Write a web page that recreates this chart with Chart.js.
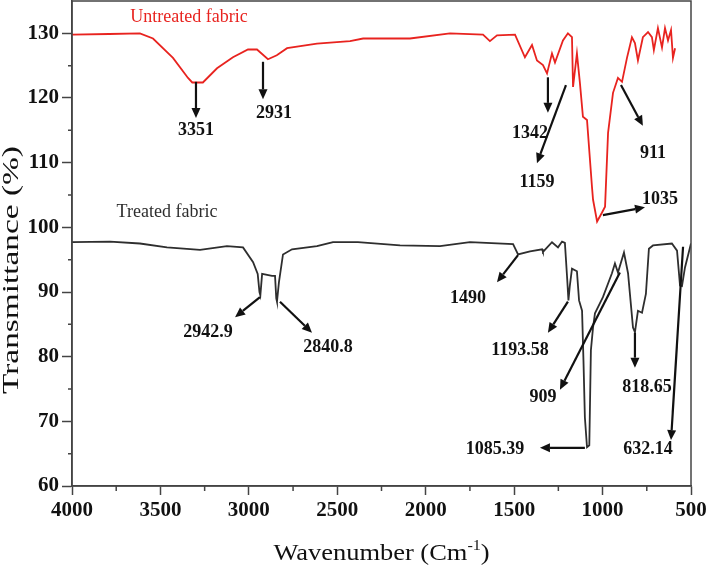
<!DOCTYPE html>
<html>
<head>
<meta charset="utf-8">
<script src="https://cdn.jsdelivr.net/npm/chart.js@4.4.1/dist/chart.umd.min.js"></script>
<style>
  html, body { margin: 0; padding: 0; background: #fff; }
</style>
</head>
<body>
<canvas id="ftir" width="706" height="567"></canvas>
<script>
// Untreated fabric (red) - wavenumber (cm-1) and transmittance (%)
const untreatedWave = [4000, 3790, 3616, 3542, 3429, 3344, 3320, 3260, 3180, 3090, 3005, 2954, 2892, 2842, 2784, 2615,
  2428, 2354, 2089, 1863, 1676, 1637, 1597, 1495, 1439, 1399, 1371, 1337, 1314, 1286, 1269, 1224, 1196, 1173, 1167,
  1145, 1128, 1111, 1088, 1060, 1054, 1031, 1003, 986, 969, 941, 913, 890, 862, 834, 817, 800, 772, 743, 721, 710,
  687, 664, 647, 630, 613, 602, 590];
const untreatedT = [129.8, 129.9, 130.0, 129.2, 126.2, 123.1, 122.4, 122.4, 124.6, 126.3, 127.5, 127.5, 126.0, 126.6, 127.7, 128.4,
  128.8, 129.2, 129.2, 130.0, 129.8, 128.8, 129.7, 129.8, 126.3, 128.2, 125.8, 125.1, 123.8, 126.9, 125.5, 128.9, 130.0, 129.4, 121.7,
  126.9, 122.3, 117.1, 116.6, 106.3, 104.3, 100.9, 102.3, 103.2, 114.6, 120.8, 123.1, 122.5, 126.2, 129.4, 128.5, 125.8, 129.4, 130.2, 129.4, 127.4,
  130.8, 127.8, 130.8, 128.9, 130.5, 126.2, 127.7];

// Treated fabric (black)
const treatedWave = [4000, 3785, 3616, 3463, 3276, 3124, 3033, 2976, 2950, 2940, 2935, 2925, 2869, 2852, 2845, 2841, 2830,
  2807, 2756, 2615, 2524, 2383, 2145, 1919, 1750, 1506, 1478, 1410, 1342, 1337, 1286, 1252, 1229, 1213, 1200, 1193,
  1185, 1173, 1145, 1133, 1116, 1108, 1100, 1088, 1075, 1066, 1054, 1043, 998, 947, 930, 913, 879, 856, 828, 817,
  800, 777, 755, 738, 715, 608, 579, 562, 551, 534, 500];
const treatedT = [97.7, 97.8, 97.5, 96.9, 96.5, 97.1, 96.9, 94.6, 92.8, 90.0, 89.5, 92.8, 92.5, 92.5, 89.0, 88.5, 91.5,
  95.8, 96.6, 97.1, 97.7, 97.7, 97.2, 97.1, 97.7, 97.4, 95.8, 96.3, 96.6, 96.2, 97.7, 96.9, 97.8, 97.6, 92.0, 88.7,
  91.0, 93.6, 93.2, 88.7, 87.1, 79.4, 70.6, 66.0, 66.3, 81.0, 84.5, 86.7, 89.2, 92.9, 94.4, 93.0, 96.1, 92.9, 84.5, 83.8,
  87.1, 86.8, 89.7, 96.7, 97.2, 97.5, 96.4, 91.0, 90.9, 93.8, 97.5];

const xTicks = [4000, 3500, 3000, 2500, 2000, 1500, 1000, 500];
const xMinor = [3750, 3250, 2750, 2250, 1750, 1250, 750];
const yTicks = [60, 70, 80, 90, 100, 110, 120, 130];
const yMinor = [65, 75, 85, 95, 105, 115, 125];

// series names and where they are written (wavenumber, %T)
const seriesNames = ['Untreated fabric', 'Treated fabric'];
const seriesColors = ['#e8231f', '#2e2e2e'];
const seriesNamePos = [[3338, 132.5], [3463, 102.4]];

// peak labels: text, text centre, arrow start, arrow tip
const peakLabels = ['3351', '2931', '1342', '1159', '911', '1035',
  '2942.9', '2840.8', '1490', '1193.58', '909', '818.65', '632.14', '1085.39'];
const peakTextPos = [[3299, 115.0], [2858, 117.7], [1410, 114.6], [1371, 107.0], [715, 111.5], [675, 104.4],
  [3231, 83.8], [2553, 81.5], [1761, 89.0], [1467, 81.0], [1337, 73.7], [749, 75.2], [743, 65.6], [1608, 65.6]];
const arrowFrom = [[3299, 122.5], [2920, 125.6], [1309, 123.2], [1207, 122.0], [896, 122.0], [998, 101.9],
  [2937, 89.2], [2824, 88.5], [1478, 95.7], [1196, 88.5], [902, 93.0], [817, 83.7], [545, 97.0], [1100, 65.9]];
const arrowTo = [[3299, 116.9], [2920, 119.8], [1309, 117.7], [1371, 109.9], [772, 115.7], [760, 103.1],
  [3078, 86.1], [2643, 83.7], [1597, 91.5], [1309, 83.7], [1241, 74.9], [817, 78.3], [613, 67.1], [1354, 65.9]];

function toPoints(xs, ys) {
  return xs.map((w, i) => ({ x: w, y: ys[i] }));
}

function drawArrow(ctx, x1, y1, x2, y2) {
  const ang = Math.atan2(y2 - y1, x2 - x1);
  const head = 10, half = 4.5;
  const bx = x2 - head * Math.cos(ang), by = y2 - head * Math.sin(ang);
  ctx.beginPath();
  ctx.moveTo(x1, y1);
  ctx.lineTo(bx, by);
  ctx.stroke();
  ctx.beginPath();
  ctx.moveTo(x2, y2);
  ctx.lineTo(bx + half * Math.sin(ang), by - half * Math.cos(ang));
  ctx.lineTo(bx - half * Math.sin(ang), by + half * Math.cos(ang));
  ctx.closePath();
  ctx.fill();
}

// frame, minor ticks, arrows, labels and axis titles
const decorations = {
  id: 'decorations',
  afterDraw(chart) {
    const { ctx, chartArea: a, scales: { x, y } } = chart;
    ctx.save();
    ctx.strokeStyle = '#444';
    ctx.lineWidth = 1.5;
    ctx.strokeRect(a.left, a.top, a.right - a.left, a.bottom - a.top);

    ctx.beginPath();
    xMinor.forEach(v => {
      const px = x.getPixelForValue(v);
      ctx.moveTo(px, a.bottom);
      ctx.lineTo(px, a.bottom + 5);
    });
    yMinor.forEach(v => {
      const py = y.getPixelForValue(v);
      ctx.moveTo(a.left - 4, py);
      ctx.lineTo(a.left, py);
    });
    ctx.stroke();

    ctx.strokeStyle = '#111';
    ctx.fillStyle = '#111';
    ctx.lineWidth = 2.2;
    arrowFrom.forEach((f, i) => {
      const t = arrowTo[i];
      drawArrow(ctx, x.getPixelForValue(f[0]), y.getPixelForValue(f[1]),
        x.getPixelForValue(t[0]), y.getPixelForValue(t[1]));
    });

    ctx.textAlign = 'center';
    ctx.textBaseline = 'middle';
    ctx.font = 'bold 18px "Liberation Serif"';
    peakLabels.forEach((txt, i) => {
      const p = peakTextPos[i];
      ctx.fillText(txt, x.getPixelForValue(p[0]), y.getPixelForValue(p[1]));
    });

    ctx.font = '18px "Liberation Serif"';
    seriesNames.forEach((txt, i) => {
      const p = seriesNamePos[i];
      ctx.fillStyle = seriesColors[i];
      ctx.fillText(txt, x.getPixelForValue(p[0]), y.getPixelForValue(p[1]));
    });

    // y axis title
    ctx.fillStyle = '#111';
    ctx.save();
    ctx.translate(18, 270);
    ctx.rotate(-Math.PI / 2);
    ctx.scale(1.45, 1);
    ctx.textBaseline = 'alphabetic';
    ctx.font = '23px "Liberation Serif"';
    ctx.fillText('Transmittance (%)', 0, 0);
    ctx.restore();

    // x axis title with superscript
    ctx.save();
    ctx.translate((a.left + a.right) / 2, 560);
    ctx.scale(1.15, 1);
    ctx.textBaseline = 'alphabetic';
    ctx.textAlign = 'left';
    const big = '23px "Liberation Serif"', small = '14px "Liberation Serif"';
    ctx.font = big;
    const w1 = ctx.measureText('Wavenumber (Cm').width;
    const w3 = ctx.measureText(')').width;
    ctx.font = small;
    const w2 = ctx.measureText('-1').width;
    let cx = -(w1 + w2 + w3) / 2;
    ctx.font = big;
    ctx.fillText('Wavenumber (Cm', cx, 0);
    cx += w1;
    ctx.font = small;
    ctx.fillText('-1', cx, -10);
    cx += w2;
    ctx.font = big;
    ctx.fillText(')', cx, 0);
    ctx.restore();

    ctx.restore();
  }
};

const tickFont = { family: 'Liberation Serif', size: 21, weight: 'bold' };

new Chart(document.getElementById('ftir').getContext('2d'), {
  type: 'line',
  data: {
    datasets: [{
      label: seriesNames[0],
      data: toPoints(untreatedWave, untreatedT),
      borderColor: seriesColors[0],
      borderWidth: 1.8,
      pointRadius: 0,
      tension: 0
    }, {
      label: seriesNames[1],
      data: toPoints(treatedWave, treatedT),
      borderColor: seriesColors[1],
      borderWidth: 1.8,
      pointRadius: 0,
      tension: 0
    }]
  },
  options: {
    responsive: false,
    animation: false,
    devicePixelRatio: 1,
    layout: { padding: { top: 1, right: 15, left: 0, bottom: 0 } },
    plugins: { legend: { display: false }, tooltip: { enabled: false } },
    scales: {
      x: {
        type: 'linear',
        min: 500,
        max: 4000,
        reverse: true,
        afterBuildTicks: s => { s.ticks = xTicks.map(v => ({ value: v })); },
        afterFit: s => { s.height = 81; s.paddingLeft = 0; s.paddingRight = 0; },
        grid: { drawOnChartArea: false, tickLength: 9, color: '#444', tickWidth: 1.5 },
        border: { display: true, color: '#444', width: 1.5 },
        ticks: { font: tickFont, color: '#111', padding: 3, maxRotation: 0, autoSkip: false, callback: v => String(v) }
      },
      y: {
        min: 60,
        max: 135,
        afterBuildTicks: s => { s.ticks = yTicks.map(v => ({ value: v })); },
        afterFit: s => { s.width = 72; s.paddingTop = 0; s.paddingBottom = 0; },
        grid: { drawOnChartArea: false, tickLength: 10, color: '#444', tickWidth: 1.5 },
        border: { display: true, color: '#444', width: 1.5 },
        ticks: { font: tickFont, color: '#111', padding: 3, callback: v => String(v) }
      }
    }
  },
  plugins: [decorations]
});
</script>
</body>
</html>
